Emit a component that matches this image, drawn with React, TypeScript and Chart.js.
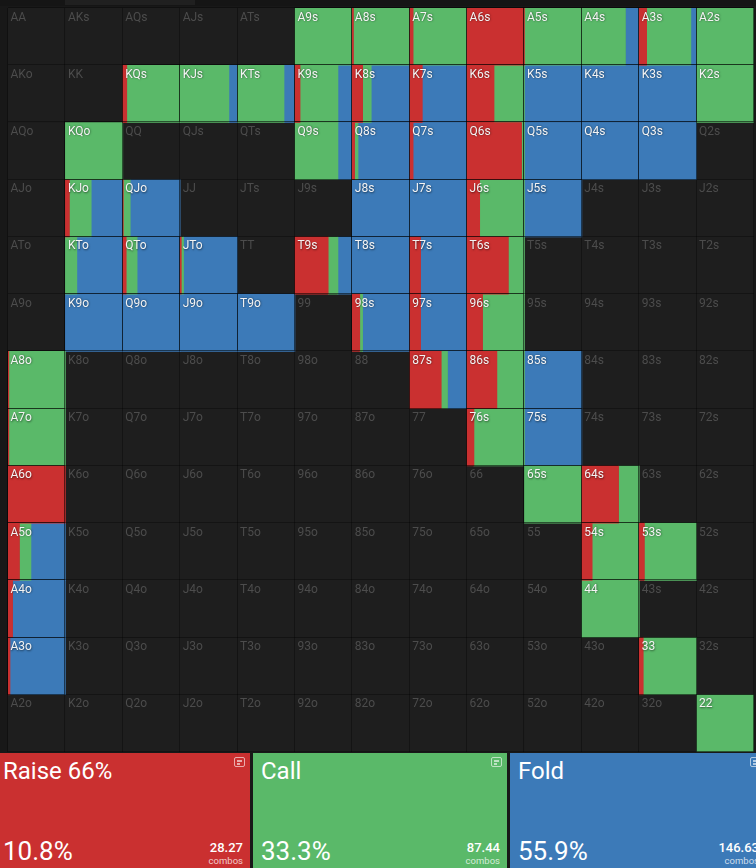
import React, { useEffect, useRef } from "react";
import { Chart, registerables } from "chart.js";

Chart.register(...registerables);

// ---- data ----
const ranks = ["A", "K", "Q", "J", "T", "9", "8", "7", "6", "5", "4", "3", "2"];

// frequency of each action per cell (row r, column c); all 0 = hand not in range
const raiseFreq: number[][] = [
  [0, 0, 0, 0, 0, 0, 0.02, 0.06, 1, 0, 0, 0.13, 0],
  [0, 0, 0.07, 0, 0, 0.09, 0.18, 0.22, 0.47, 0, 0, 0, 0],
  [0, 0, 0, 0, 0, 0, 0.04, 0.06, 0.95, 0, 0, 0, 0],
  [0, 0.07, 0.01, 0, 0, 0, 0, 0, 0.22, 0, 0, 0, 0],
  [0, 0, 0.06, 0.02, 0, 0.58, 0, 0.19, 0.72, 0, 0, 0, 0],
  [0, 0, 0, 0, 0, 0, 0.13, 0.19, 0.27, 0, 0, 0, 0],
  [0.015, 0, 0, 0, 0, 0, 0, 0.55, 0.52, 0, 0, 0, 0],
  [0.015, 0, 0, 0, 0, 0, 0, 0, 0.12, 0, 0, 0, 0],
  [1, 0, 0, 0, 0, 0, 0, 0, 0, 0, 0.64, 0, 0],
  [0.2, 0, 0, 0, 0, 0, 0, 0, 0, 0, 0.18, 0.09, 0],
  [0.08, 0, 0, 0, 0, 0, 0, 0, 0, 0, 0, 0, 0],
  [0.035, 0, 0, 0, 0, 0, 0, 0, 0, 0, 0, 0.07, 0],
  [0, 0, 0, 0, 0, 0, 0, 0, 0, 0, 0, 0, 0],
];

const callFreq: number[][] = [
  [0, 0, 0, 0, 0, 1, 0.98, 0.94, 0, 1, 0.76, 0.77, 1],
  [0, 0, 0.93, 0.85, 0.81, 0.66, 0.15, 0, 0.53, 0, 0, 0, 1],
  [0, 1, 0, 0, 0, 0.75, 0.06, 0, 0.05, 0, 0, 0, 0],
  [0, 0.38, 0.12, 0, 0, 0, 0, 0, 0.78, 0, 0, 0, 0],
  [0, 0.2, 0.19, 0.04, 0, 0.17, 0, 0, 0.28, 0, 0, 0, 0],
  [0, 0, 0, 0, 0, 0, 0.05, 0, 0.73, 0, 0, 0, 0],
  [0.985, 0, 0, 0, 0, 0, 0, 0.11, 0.48, 0, 0, 0, 0],
  [0.985, 0, 0, 0, 0, 0, 0, 0, 0.88, 0, 0, 0, 0],
  [0, 0, 0, 0, 0, 0, 0, 0, 0, 1, 0.36, 0, 0],
  [0.2, 0, 0, 0, 0, 0, 0, 0, 0, 0, 0.82, 0.91, 0],
  [0, 0, 0, 0, 0, 0, 0, 0, 0, 0, 1, 0, 0],
  [0, 0, 0, 0, 0, 0, 0, 0, 0, 0, 0, 0.93, 0],
  [0, 0, 0, 0, 0, 0, 0, 0, 0, 0, 0, 0, 1],
];

const foldFreq: number[][] = [
  [0, 0, 0, 0, 0, 0, 0, 0, 0, 0, 0.24, 0.1, 0],
  [0, 0, 0, 0.15, 0.19, 0.25, 0.67, 0.78, 0, 1, 1, 1, 0],
  [0, 0, 0, 0, 0, 0.25, 0.9, 0.94, 0, 1, 1, 1, 0],
  [0, 0.55, 0.87, 0, 0, 0, 1, 1, 0, 1, 0, 0, 0],
  [0, 0.8, 0.75, 0.94, 0, 0.25, 1, 0.81, 0, 0, 0, 0, 0],
  [0, 1, 1, 1, 1, 0, 0.82, 0.81, 0, 0, 0, 0, 0],
  [0, 0, 0, 0, 0, 0, 0, 0.34, 0, 1, 0, 0, 0],
  [0, 0, 0, 0, 0, 0, 0, 0, 0, 1, 0, 0, 0],
  [0, 0, 0, 0, 0, 0, 0, 0, 0, 0, 0, 0, 0],
  [0.6, 0, 0, 0, 0, 0, 0, 0, 0, 0, 0, 0, 0],
  [0.92, 0, 0, 0, 0, 0, 0, 0, 0, 0, 0, 0, 0],
  [0.965, 0, 0, 0, 0, 0, 0, 0, 0, 0, 0, 0, 0],
  [0, 0, 0, 0, 0, 0, 0, 0, 0, 0, 0, 0, 0],
];

// summary panels
const actionNames = ["Raise 66%", "Call", "Fold"];
const actionPercents = ["10.8%", "33.3%", "55.9%"];
const actionCombos = ["28.27", "87.44", "146.63"];

// ---- styles ----
const RAISE = "#ca3030";
const CALL = "#5ab969";
const FOLD = "#3c7ab8";
const EMPTY = "#1e1e1e";
const actionColors = [RAISE, CALL, FOLD];
const FONT = "Roboto, 'Noto Sans', sans-serif";

function handName(r: number, c: number): string {
  if (r === c) return ranks[r] + ranks[c];
  if (c > r) return ranks[r] + ranks[c] + "s";
  return ranks[c] + ranks[r] + "o";
}

function isFilled(r: number, c: number): boolean {
  return raiseFreq[r][c] + callFreq[r][c] + foldFreq[r][c] > 0;
}

function buildSegments() {
  const raise: any[] = [];
  const call: any[] = [];
  const fold: any[] = [];
  const empty: any[] = [];
  for (let r = 0; r < 13; r++) {
    for (let c = 0; c < 13; c++) {
      const a = raiseFreq[r][c];
      const b = callFreq[r][c];
      const f = foldFreq[r][c];
      const t = a + b + f;
      const y = ranks[r];
      if (t === 0) {
        empty.push({ x: [c, c + 1], y });
        continue;
      }
      const an = a / t;
      const bn = b / t;
      const fn = f / t;
      if (an > 0) raise.push({ x: [c, c + an], y });
      if (bn > 0) call.push({ x: [c + an, c + an + bn], y });
      if (fn > 0) fold.push({ x: [c + an + bn, c + 1], y });
    }
  }
  return { raise, call, fold, empty };
}

const gridPlugin = {
  id: "rangeGrid",
  afterDatasetsDraw(chart: any) {
    const { ctx, scales } = chart;
    const x = scales.x;
    const y = scales.y;
    const top = y.getPixelForValue(-0.5);
    const bottom = y.getPixelForValue(12.5);
    const left = x.getPixelForValue(0);
    const right = x.getPixelForValue(13);
    ctx.save();
    ctx.strokeStyle = "rgba(0,0,0,0.3)";
    ctx.lineWidth = 1;
    ctx.beginPath();
    for (let k = 0; k <= 13; k++) {
      const px = Math.round(x.getPixelForValue(k)) - 0.5;
      ctx.moveTo(px, top);
      ctx.lineTo(px, bottom);
      const py = Math.round(y.getPixelForValue(k - 0.5)) - 0.5;
      ctx.moveTo(left, py);
      ctx.lineTo(right, py);
    }
    ctx.stroke();

    // darker outline around hands that are in range
    ctx.strokeStyle = "rgba(0,0,0,0.35)";
    for (let r = 0; r < 13; r++) {
      for (let c = 0; c < 13; c++) {
        if (!isFilled(r, c)) continue;
        const x0 = Math.round(x.getPixelForValue(c)) - 0.5;
        const x1 = Math.round(x.getPixelForValue(c + 1)) - 0.5;
        const y0 = Math.round(y.getPixelForValue(r - 0.5)) - 0.5;
        const y1 = Math.round(y.getPixelForValue(r + 0.5)) - 0.5;
        ctx.strokeRect(x0, y0, x1 - x0, y1 - y0);
      }
    }

    ctx.font = `12px ${FONT}`;
    ctx.textBaseline = "alphabetic";
    ctx.textAlign = "left";
    for (let r = 0; r < 13; r++) {
      const cellTop = y.getPixelForValue(r - 0.5);
      for (let c = 0; c < 13; c++) {
        const cellLeft = x.getPixelForValue(c);
        if (isFilled(r, c)) {
          ctx.fillStyle = "#f4f4f4";
          ctx.shadowColor = "rgba(0,0,0,0.55)";
          ctx.shadowBlur = 2;
          ctx.shadowOffsetX = 0.5;
          ctx.shadowOffsetY = 0.5;
        } else {
          ctx.fillStyle = "#4c4c4c";
          ctx.shadowColor = "transparent";
          ctx.shadowBlur = 0;
          ctx.shadowOffsetX = 0;
          ctx.shadowOffsetY = 0;
        }
        ctx.fillText(handName(r, c), cellLeft + 2.5, cellTop + 12.5);
      }
    }
    ctx.restore();
  },
};

function Icon() {
  return (
    <div
      style={{
        position: "absolute",
        right: 5,
        top: 4,
        width: 9,
        height: 8,
        border: "1.5px solid rgba(255,255,255,0.6)",
        borderRadius: 2,
        boxSizing: "content-box",
      }}
    >
      <div style={{ position: "absolute", left: 2, top: 2, width: 5, height: 1.5, background: "rgba(255,255,255,0.6)" }} />
      <div style={{ position: "absolute", left: 2, top: 5, width: 3, height: 1.5, background: "rgba(255,255,255,0.6)" }} />
    </div>
  );
}

export default function App() {
  const canvasRef = useRef<HTMLCanvasElement | null>(null);

  useEffect(() => {
    document.body.style.margin = "0";
    document.body.style.background = "#181818";
    const canvas = canvasRef.current;
    if (!canvas) return;
    const seg = buildSegments();
    const common = {
      grouped: false,
      barPercentage: 1,
      categoryPercentage: 1,
      borderWidth: 0,
      borderSkipped: false,
    };
    const chart = new Chart(canvas, {
      type: "bar",
      data: {
        labels: ranks,
        datasets: [
          { label: "Raise", data: seg.raise, backgroundColor: RAISE, order: 1, ...common },
          { label: "Call", data: seg.call, backgroundColor: CALL, order: 1, ...common },
          { label: "Fold", data: seg.fold, backgroundColor: FOLD, order: 1, ...common },
          { label: "Not in range", data: seg.empty, backgroundColor: EMPTY, order: 2, ...common },
        ] as any,
      },
      options: {
        indexAxis: "y",
        responsive: false,
        animation: false,
        events: [],
        layout: { padding: { left: 8, top: 8, right: 2, bottom: 1 } },
        scales: {
          x: { type: "linear", min: 0, max: 13, display: false },
          y: { type: "category", labels: ranks, offset: true, display: false },
        },
        plugins: {
          legend: { display: false },
          tooltip: { enabled: false },
        },
      } as any,
      plugins: [gridPlugin],
    });
    return () => chart.destroy();
  }, []);

  const boxLefts = [-5, 253, 510];
  const boxWidths = [255, 254, 256];

  return (
    <div
      style={{
        position: "relative",
        width: 756,
        height: 868,
        overflow: "hidden",
        background: "#181818",
        fontFamily: FONT,
      }}
    >
      <div style={{ position: "absolute", left: 0, top: 0, width: 756, height: 6, background: "#151515" }} />
      <div style={{ position: "absolute", left: 65, top: 0, width: 130, height: 5, background: "#202020" }} />
      <canvas
        ref={canvasRef}
        width={756}
        height={753}
        style={{ position: "absolute", left: 0, top: 0, width: 756, height: 753 }}
      />
      {actionNames.map((name, i) => (
        <div
          key={name}
          style={{
            position: "absolute",
            left: boxLefts[i],
            top: 753,
            width: boxWidths[i],
            height: 115,
            background: actionColors[i],
            color: "#ffffff",
          }}
        >
          <Icon />
          <div
            style={{
              position: "absolute",
              left: 8,
              top: 6,
              fontSize: 24,
              lineHeight: "24px",
              whiteSpace: "nowrap",
            }}
          >
            {name}
          </div>
          <div
            style={{
              position: "absolute",
              left: 8,
              top: 85,
              fontSize: 26,
              lineHeight: "26px",
              whiteSpace: "nowrap",
            }}
          >
            {actionPercents[i]}
          </div>
          <div
            style={{
              position: "absolute",
              right: 7,
              top: 88,
              fontSize: 13,
              lineHeight: "13px",
              fontWeight: 500,
              whiteSpace: "nowrap",
              textAlign: "right",
            }}
          >
            {actionCombos[i]}
          </div>
          <div
            style={{
              position: "absolute",
              right: 7,
              top: 103,
              fontSize: 9.5,
              lineHeight: "9.5px",
              color: "rgba(255,255,255,0.75)",
              whiteSpace: "nowrap",
              textAlign: "right",
            }}
          >
            combos
          </div>
        </div>
      ))}
    </div>
  );
}
